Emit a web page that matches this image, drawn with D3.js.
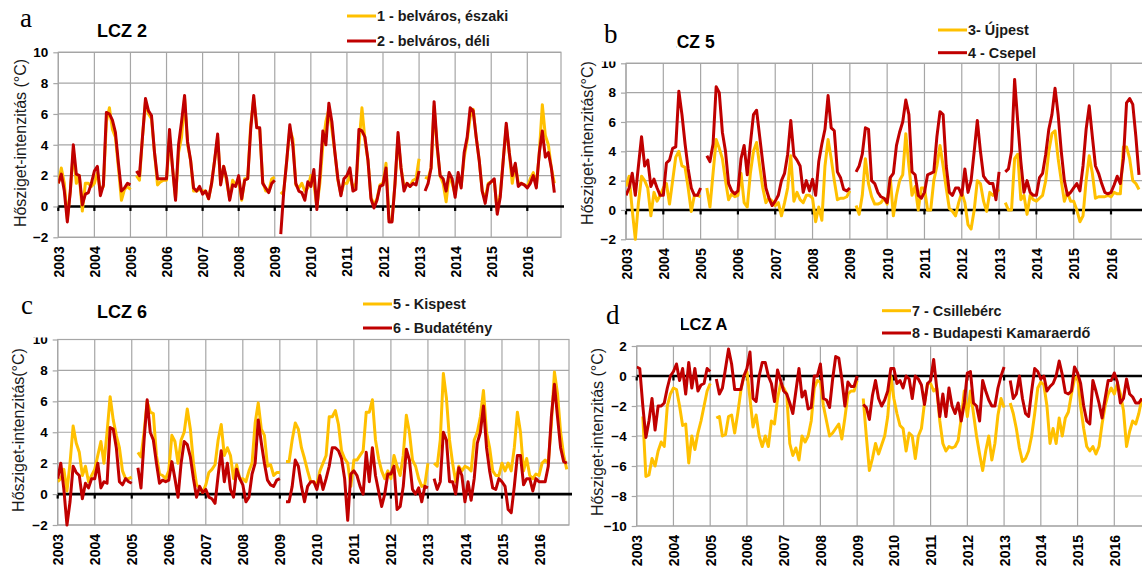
<!DOCTYPE html>
<html>
<head>
<meta charset="utf-8">
<script src="https://cdn.jsdelivr.net/npm/d3@7/dist/d3.min.js"></script>
<style>
  body { margin: 0; background: #fff; }
  svg { display: block; font-family: "Liberation Sans", Arial, sans-serif; }
</style>
</head>
<body>
<svg id="chart" width="1142" height="570"></svg>
<script>
(function () {
  'use strict';

  // ── Data: monthly UHI intensity, Jan 2003 – Oct 2016 (null = missing) ──
  var years = ['2003', '2004', '2005', '2006', '2007', '2008', '2009',
               '2010', '2011', '2012', '2013', '2014', '2015', '2016'];
  var yTicksTop = [-2, 0, 2, 4, 6, 8, 10];
  var yTicksLow = [-10, -8, -6, -4, -2, 0, 2];

  var lcz2North = [
    1.5, 2.5, 1.5, -0.8, 1.0, 3.6, 1.5, 2.0, -0.3, 1.5, 1.5, 1.3,
    1.5, 2.2, 1.0, 1.3, 5.5, 6.4, 5.0, 4.5, 2.5, 0.4, 1.1, 1.3,
    1.1, null, 2.0, 1.7, 4.5, 6.8, 6.0, 5.7, 3.5, 1.4, 1.6, 1.7,
    1.7, 4.5, 2.5, 0.5, 3.5, 4.5, 7.0, 4.0, 3.0, 1.0, 1.0, 1.1,
    1.0, 1.0, 0.5, 1.5, 3.0, 4.5, 1.5, 2.6, 1.6, 0.5, 1.7, 1.4,
    1.7, 0.4, 1.8, 1.8, 5.3, 7.0, 5.2, 5.0, 1.6, 1.0, 1.0, 1.8,
    1.9, null, 0.8, 1.0, 3.0, 5.0, 4.4, 1.4, 1.2, 1.5, 1.0, 1.2,
    2.0, 1.5, 0.0, 1.5, 4.0, 5.5, 6.3, 5.0, 3.5, 1.7, 0.8, 1.5,
    1.5, 2.0, 1.2, 1.5, 4.0, 6.4, 4.3, 3.0, 0.6, 0.1, 0.5, 1.4,
    1.5, 2.8, -0.8, -0.9, 1.5, 4.5, 2.5, 1.3, 1.5, 1.3, 1.7, 1.8,
    3.1, null, 1.9, 1.8, 2.5, 6.5, 3.8, 2.0, 1.5, 0.3, 2.0, 1.5,
    0.8, 2.0, 1.3, 3.2, 4.3, 5.8, 6.3, 4.5, 3.0, 1.0, 0.5, 1.5,
    1.6, 1.7, -0.3, 0.8, 3.0, 5.2, 3.5, 1.5, 2.7, 1.5, 1.5, 1.4,
    1.3, 1.8, 2.2, 1.3, 3.5, 6.6, 4.6, 4.0, 2.5, 1.5
  ];
  var lcz2South = [
    1.5, 2.1, 1.0, -1.0, 1.0, 4.0, 2.1, 2.0, 0.1, 0.8, 0.9, 1.5,
    2.3, 2.6, 0.7, 1.4, 6.1, 6.0, 5.6, 4.8, 2.8, 1.0, 1.2, 1.5,
    1.4, null, 2.3, 2.0, 4.5, 7.0, 6.2, 5.9, 3.5, 1.8, 1.8, 1.8,
    1.8, 5.0, 2.5, 0.4, 4.0, 5.5, 7.2, 4.2, 3.0, 1.2, 1.0, 1.3,
    0.8, 1.0, 0.5, 1.5, 3.0, 4.7, 1.4, 2.6, 1.8, 0.4, 1.4, 1.3,
    2.0, 0.5, 1.7, 1.8, 5.0, 7.2, 5.1, 5.1, 1.5, 1.2, 0.9, 1.5,
    1.7, null, -1.8, 1.0, 3.0, 5.3, 4.0, 1.5, 1.0, 0.9, 0.4, 1.6,
    1.3, 2.4, -0.2, 2.0, 4.9, 4.0, 6.7, 5.5, 3.5, 1.8, 0.7, 1.8,
    2.0, 2.5, 1.0, 1.1, 5.0, 4.9, 4.5, 3.0, 0.5, -0.1, 0.4, 1.3,
    1.4, 2.5, -1.0, -1.0, 1.5, 4.8, 2.5, 1.0, 1.5, 1.3, 1.5, 1.4,
    2.3, null, 1.0, 1.5, 2.5, 6.8, 4.0, 2.0, 1.8, 1.0, 2.2, 1.8,
    0.6, 2.2, 1.2, 3.5, 4.5, 6.4, 6.2, 4.5, 3.0, 1.0, 0.2, 1.4,
    1.6, 1.8, -0.5, 0.6, 3.0, 5.4, 3.5, 2.0, 2.8, 1.3, 1.5, 1.4,
    1.2, 1.5, 2.0, 1.2, 3.5, 4.9, 3.2, 3.5, 2.5, 0.9
  ];
  var lcz5Ujpest = [
    1.6, 2.3, 0.0, -2.0, 0.5, 2.3, 2.0, 1.5, -0.4, 1.2, 0.6, 1.0,
    1.5, 1.8, 0.4, 2.0, 3.6, 4.0, 3.0, 2.9, 1.5, -0.1, 1.0, 1.0,
    0.9, null, 1.5, 0.2, 2.5, 4.8, 4.2, 3.5, 2.0, 0.7, 1.1, 0.9,
    1.0, 2.5, 0.5, 0.2, 2.5, 4.0, 4.6, 3.0, 1.5, 0.5, 0.8, 0.6,
    0.3, 0.5, -0.4, 0.5, 1.5, 3.7, 0.6, 1.2, 0.7, 0.5, 1.0, 1.0,
    0.8, -0.8, 0.2, -0.7, 3.0, 4.8, 3.5, 2.0, 0.7, 0.8, 0.8, 0.9,
    1.3, null, 0.3, -0.3, 1.0, 3.5, 1.8, 0.9, 0.4, 0.4, 0.5, 0.8,
    0.4, 2.2, -0.4, 1.0, 2.0, 2.4, 5.2, 3.0, 1.0, 1.6, 0.0, 1.5,
    1.5, 0.0, 0.0, 2.0, 3.0, 4.4, 3.0, 1.5, 0.1, -0.1, -0.4, 0.5,
    1.2, 0.5, -1.0, -1.3, 0.0, 2.0, 1.8, 0.6, -0.1, 1.2, 1.0, 1.2,
    1.4, null, 0.5, 0.0, 0.0, 3.5, 3.8, 0.7, 1.0, -0.3, 1.0, 0.7,
    0.6, 0.8, 1.0, 2.0, 4.0, 5.2, 5.4, 3.5, 2.0, 0.6, 1.2, 0.6,
    0.6, 0.0, -0.8, -0.4, 2.0, 3.7, 2.5, 0.8, 0.9, 0.9, 0.9, 1.0,
    0.9, 1.2, 1.1, 1.1, 4.3, 4.3, 3.5, 2.0, 1.8, 1.4
  ];
  var lcz5Csepel = [
    1.0, 1.5, 2.5, 1.0, 3.0, 5.0, 3.0, 3.4, 1.6, 2.1, 1.5, 1.0,
    1.0, 3.2, 3.4, 4.2, 4.3, 8.1, 6.5, 4.5, 2.8, 1.5, 1.0, 1.0,
    1.5, null, 3.7, 3.3, 4.5, 8.4, 8.0, 5.3, 4.0, 1.8, 1.3, 1.1,
    1.3, 3.5, 4.4, 2.4, 4.5, 6.5, 6.8, 5.0, 3.2, 1.5, 0.8, 0.3,
    0.6, 1.0, 2.0, 2.5, 3.8, 6.1, 3.7, 3.4, 3.0, 1.2, 2.0, 1.3,
    2.1, 1.0, 3.3, 4.5, 5.5, 7.8, 5.6, 5.4, 2.6, 2.2, 1.4, 1.3,
    1.5, null, 2.6, 3.0, 3.8, 5.6, 5.5, 2.0, 1.8, 1.2, 0.9, 0.8,
    0.5, 2.2, 2.5, 4.4, 5.3, 6.0, 7.5, 6.5, 2.6, 2.4, 1.0, 0.8,
    1.2, 2.4, 2.5, 2.6, 5.0, 6.7, 6.5, 3.0, 1.2, 1.0, 1.5, 1.5,
    1.0, 2.8, 1.2, 2.0, 4.0, 6.1, 4.0, 2.3, 2.0, 1.8, 1.8, 0.7,
    2.6, null, 2.6, 2.8, 4.0, 8.9, 6.0, 3.3, 1.2, 2.0, 1.2, 1.0,
    1.0, 2.2, 2.5, 3.8, 5.5, 6.5, 8.3, 6.5, 4.0, 2.0, 1.0, 1.2,
    1.5, 1.8, 1.3, 3.0, 5.5, 7.1, 5.0, 3.0, 2.5, 1.8, 1.2, 1.1,
    1.2, 1.7, 2.3, 1.8, 3.5, 7.3, 7.6, 7.2, 5.0, 2.4
  ];
  var lcz6Kispest = [
    0.8, 1.0, 1.6, 0.2, 2.0, 4.4, 3.3, 2.7, 1.2, 1.8, 0.8, 1.2,
    1.6, 2.5, 3.4, 2.0, 4.0, 6.3, 4.8, 3.8, 3.0, 1.5, 1.0, 1.0,
    1.1, null, 2.7, 2.4, 4.0, 6.0, 5.3, 5.2, 2.5, 1.3, 1.2, 1.0,
    1.5, 3.8, 3.4, 2.0, 3.5, 4.0, 5.5, 4.2, 2.0, 0.6, 0.4, 0.1,
    0.6, 1.4, 1.6, 1.9, 3.5, 4.5, 2.5, 3.0, 2.5, 1.0, 1.9, 1.0,
    1.0, 0.8, 1.5, 2.0, 4.6, 5.9, 4.2, 3.8, 1.8, 1.9, 1.2, 1.4,
    1.4, null, 2.1, 2.1, 3.5, 4.6, 4.2, 3.0, 2.3, 1.5, 0.8, 0.8,
    0.6, 1.5, 2.0, 2.5, 5.0, 5.0, 5.4, 4.5, 2.8, 2.3, 2.0, 0.5,
    2.2, 2.2, 2.5, 2.8, 5.3, 5.3, 6.1, 3.5, 2.3, 1.5, 1.0, 1.5,
    1.0, 2.5, 1.8, 1.2, 2.5, 5.1, 4.0, 2.2, 1.8, 1.0, 0.5, 0.6,
    2.0, null, 2.0, 1.8, 3.5, 7.8, 6.2, 3.5, 2.0, 0.8, 1.8, 1.5,
    1.8, 1.7, 1.5, 3.5, 4.0, 5.0, 6.7, 4.0, 3.0, 1.5, 1.2, 1.2,
    2.0, 1.5, 2.0, 1.5, 3.0, 5.3, 4.0, 1.5, 2.3, 1.2, 1.0, 1.3,
    1.2, 2.0, 2.2, 2.0, 4.5, 7.9, 6.5, 4.0, 2.5, 1.6
  ];
  var lcz6Budateteny = [
    1.0, 2.0, 0.3, -2.0, -0.5, 1.8, 1.4, 1.2, -0.3, 0.7, 0.4, 1.0,
    1.0, 2.0, 0.4, 0.8, 0.7, 4.3, 4.2, 3.0, 0.8, 0.6, 1.0, 0.8,
    0.7, null, 1.7, 0.4, 3.5, 6.1, 4.0, 3.5, 2.0, 0.7, 0.9, 0.8,
    0.9, 2.1, 1.0, -0.2, 2.0, 3.4, 3.2, 2.4, 1.0, -0.2, 0.5, 0.1,
    0.3, -0.2, -0.3, -0.6, 1.2, 2.8, 0.8, 2.0, 0.3, -0.2, 1.6, 1.0,
    0.6, -0.5, -0.2, 1.3, 2.0, 4.8, 3.3, 2.0, 0.9, 0.6, 0.5, 0.9,
    1.0, null, -0.5, -0.5, 0.5, 2.2, 1.8, 0.5, -0.5, 0.5, 0.8, 0.8,
    0.3, 1.2, 0.3, 1.0, 1.8, 3.0, 3.0, 2.8, 2.3, 1.0, -1.7, 1.3,
    1.5, 1.2, 0.5, 0.0, 2.7, 0.8, 3.0, 1.2, 0.2, -0.8, 0.0, 1.3,
    1.3, 1.8, -1.0, -0.8, 0.5, 2.9, 2.2, 0.3, 0.0, 0.4, -0.5, 0.5,
    0.4, null, 1.0, 0.3, 0.8, 4.0, 3.5, 0.8, 0.8, 0.0, 1.7, 1.2,
    -0.5, 0.8, -0.4, 1.0, 3.3, 4.0, 5.7, 3.0, 1.5, 0.4, 0.3, 1.0,
    0.8, 0.5, -1.0, -1.2, 0.5, 2.5, 2.5, 0.6, 1.0, 1.0, 0.2, 1.0,
    0.8, 0.8, 0.8, 1.8, 5.0, 7.1, 5.0, 3.0, 2.1, 2.0
  ];
  var lczACsilleberc = [
    null, null, -2.7, -6.7, -6.6, -5.5, -6.0, -5.0, -4.4, -4.7, -2.0, -1.2,
    -0.8, -0.9, -2.0, -3.3, -3.2, -5.8, -4.0, -4.9, -3.8, -3.0, -2.0, -1.0,
    -0.5, null, -2.8, -2.7, -4.0, -3.9, -2.7, -2.6, -3.8, -2.5, -1.0, 0.0,
    0.3, -1.5, -3.4, -2.6, -4.0, -4.7, -4.0, -4.7, -3.0, -3.2, -1.5, -0.5,
    -0.8, -1.2, -4.5, -5.3, -4.8, -5.6, -4.0, -4.4, -4.0, -3.0, -0.8, -0.3,
    -0.4, -2.0, -3.0, -4.0, -3.8, -3.5, -3.2, -4.2, -2.8, -1.2, -1.0, -1.0,
    -0.3, null, -1.5, -4.0, -6.3, -5.5, -4.5, -5.2, -4.6, -4.0, -2.7, 0.0,
    -1.5, -2.5, -3.3, -3.5, -5.0, -3.8, -4.0, -5.5, -4.0, -3.5, -1.8, -0.5,
    -0.5, -1.0, -0.8, -3.0, -4.5, -5.0, -4.7, -4.8, -4.7, -4.3, -2.8, -1.0,
    -2.7, -1.0, -2.5, -4.0, -5.2, -6.3, -5.0, -4.0, -5.6, -4.5, -2.6, -1.5,
    -2.1, null, -1.8, -2.5, -3.5, -4.8, -5.7, -5.5, -5.0, -4.0, -2.5, -0.8,
    -0.4, -0.6, -2.0, -4.5, -3.5, -4.5, -2.8, -4.0, -2.8, -2.4, -1.2, -0.2,
    0.0, -2.0, -3.5, -4.7, -5.0, -4.7, -5.2, -4.7, -3.2, -2.0, -1.2, -0.8,
    -1.2, -0.5, -1.2, -2.3, -4.7, -3.7, -3.0, -3.2, -2.5, -1.5
  ];
  var lczAKamaraerdo = [
    0.6, 0.5, -2.0, -4.1, -3.0, -1.5, -3.6, -2.0, -2.0, -1.8, -0.8, 0.0,
    0.3, 0.8, -0.3, 0.5, -1.2, 0.9, -0.8, 0.5, -1.0, -0.6, -0.5, 0.5,
    0.3, null, -0.2, -1.2, -0.8, 0.5, 1.8, 0.8, -0.9, -0.9, -0.9, 0.0,
    0.5, 1.6, -1.5, -1.7, 0.0, 0.9, 0.9, 0.0, -0.5, -1.7, 0.4, -0.3,
    -1.0, -1.2, -1.8, -2.5, -1.0, 0.5, -1.4, -1.0, -2.2, -2.1, 0.0, 0.0,
    0.8, -1.5, -1.6, -2.1, -0.2, 1.3, 1.2, -0.2, -2.0, -0.4, -0.7, -0.7,
    0.0, null, -1.9, -2.1, -2.9, -1.3, -0.3, -1.5, -2.0, -1.6, -1.0, 0.5,
    0.5, -0.5, -0.3, -0.8, 0.0, -0.2, -1.5, 0.0, -0.2, -0.6, -1.9, -0.5,
    -0.3, 1.1, -0.8, -2.7, -1.2, -2.7, -0.8, -2.0, -2.5, -1.8, -3.0, -1.8,
    0.2, 0.3, -1.8, -2.0, -3.0, -0.3, -1.0, -1.6, -2.0, -2.0, -0.8, 0.0,
    0.6, null, -0.3, -1.5, -1.2, 0.0, -1.5, -2.5, -2.7, -1.0, 0.5, 0.3,
    -0.2, 0.0, -1.0, -0.7, -0.5, 0.0, 1.0, 0.1, -1.1, -1.2, -1.0, 0.6,
    0.2, -0.5, -2.0, -3.0, -3.2, -0.3, -1.0, -1.8, -2.8, -1.5, -0.3, -0.3,
    0.2, -0.4, -1.8, -1.5, -0.2, -1.2, -1.4, -1.8, -1.8, -1.5
  ];

  var YELLOW = '#FFC000';
  var RED = '#C00000';

  // ── Panel layout (pixel frame of each sub-chart) ──
  var panels = [
    { letter: 'a', letterX: 20, letterY: 27, title: 'LCZ 2', titleX: 97, titleY: 37, titleSize: 18,
      x0: 58.3, x16: 527.3, right: 561, top: 52.3, bottom: 237.3, yTicks: yTicksTop,
      yLabel: 'Hősziget-intenzitás (°C)', yLabelX: 20, yLabelY: 143,
      legX: 347, legY: [16, 41],
      series: [{ name: '1 - belváros, északi', values: lcz2North, color: YELLOW },
               { name: '2 - belváros, déli', values: lcz2South, color: RED }] },
    { letter: 'b', letterX: 604, letterY: 43, title: 'LCZ 5', titleX: 666, titleY: 48, titleSize: 17.5,
      mask: [596, 24, 80.5, 37.5],
      x0: 626, x16: 1111, right: 1146, top: 63.3, bottom: 239.3, yTicks: yTicksTop,
      yLabel: 'Hősziget-intenzitás(°C)', yLabelX: 587, yLabelY: 143,
      legX: 938, legY: [30, 52.7],
      series: [{ name: '3- Újpest', values: lcz5Ujpest, color: YELLOW },
               { name: '4 - Csepel', values: lcz5Csepel, color: RED }] },
    { letter: 'c', letterX: 21, letterY: 314, title: 'LCZ 6', titleX: 97, titleY: 318, titleSize: 18,
      mask: [18, 322, 36, 15.5],
      x0: 57.7, x16: 539, right: 569, top: 339.5, bottom: 525, yTicks: yTicksTop,
      yLabel: 'Hősziget-intenzitás(°C)', yLabelX: 18, yLabelY: 430,
      legX: 363, legY: [304, 328],
      series: [{ name: '5 - Kispest', values: lcz6Kispest, color: YELLOW },
               { name: '6 - Budatétény', values: lcz6Budateteny, color: RED }] },
    { letter: 'd', letterX: 606, letterY: 324, title: 'LCZ A', titleX: 679.5, titleY: 330, titleSize: 16.5,
      mask: [600, 312, 81, 24],
      x0: 636.7, x16: 1114.3, right: 1150, top: 346, bottom: 526, yTicks: yTicksLow,
      yLabel: 'Hősziget-intenzitás (°C)', yLabelX: 597, yLabelY: 432,
      legX: 882, legY: [310.7, 333],
      series: [{ name: '7 - Csillebérc', values: lczACsilleberc, color: YELLOW },
               { name: '8 - Budapesti Kamaraerdő', values: lczAKamaraerdo, color: RED }] }
  ];

  var svg = d3.select('#chart');
  var yearNums = years.map(Number);

  panels.forEach(function (p, pi) {
    var yExt = d3.extent(p.yTicks);
    var x = d3.scaleLinear().domain([yearNums[0], yearNums[yearNums.length - 1]]).range([p.x0, p.x16]);
    var y = d3.scaleLinear().domain(yExt).range([p.bottom, p.top]);
    var g = svg.append('g');

    // title (drawn first so the panel letter's white box can overlap it)
    g.append('text')
      .attr('x', p.titleX).attr('y', p.titleY)
      .attr('font-size', p.titleSize + 'px').attr('font-weight', 'bold').attr('fill', '#000')
      .text(p.title);

    // grid
    g.append('g').selectAll('line')
      .data(p.yTicks)
      .enter().append('line')
      .attr('x1', p.x0).attr('x2', p.right)
      .attr('y1', function (d) { return y(d); }).attr('y2', function (d) { return y(d); })
      .attr('stroke', '#a6a6a6').attr('stroke-width', 1.2);

    g.append('g').selectAll('line')
      .data(yearNums)
      .enter().append('line')
      .attr('x1', function (d) { return x(d); }).attr('x2', function (d) { return x(d); })
      .attr('y1', p.top).attr('y2', p.bottom)
      .attr('stroke', '#a6a6a6').attr('stroke-width', 1.2);

    g.append('rect')
      .attr('x', p.x0).attr('y', p.top)
      .attr('width', p.right - p.x0).attr('height', p.bottom - p.top)
      .attr('fill', 'none').attr('stroke', '#a6a6a6').attr('stroke-width', 1.2);

    // zero axis with year ticks
    g.append('line')
      .attr('x1', p.x0).attr('x2', p.right + 3)
      .attr('y1', y(0)).attr('y2', y(0))
      .attr('stroke', '#000').attr('stroke-width', 2.6);
    g.append('g').selectAll('line')
      .data(yearNums)
      .enter().append('line')
      .attr('x1', function (d) { return x(d); }).attr('x2', function (d) { return x(d); })
      .attr('y1', y(0)).attr('y2', y(0) + 4.5)
      .attr('stroke', '#000').attr('stroke-width', 2.2);

    // y axis labels and small grey ticks
    var yAxis = g.append('g')
      .attr('transform', 'translate(' + p.x0 + ',0)')
      .call(d3.axisLeft(y).tickValues(p.yTicks).tickSize(5).tickPadding(5));
    yAxis.select('.domain').remove();
    yAxis.selectAll('.tick line').attr('stroke', '#a6a6a6').attr('stroke-width', 1.2);
    yAxis.selectAll('text')
      .attr('font-family', '"Liberation Sans", Arial, sans-serif')
      .attr('font-size', '13.5px').attr('font-weight', 'bold').attr('fill', '#000');

    // x axis year labels (rotated)
    var xAxis = g.append('g')
      .attr('transform', 'translate(0,' + p.bottom + ')')
      .call(d3.axisBottom(x).tickValues(yearNums).tickSize(0)
        .tickFormat(function (d, i) { return years[i]; }));
    xAxis.select('.domain').remove();
    xAxis.selectAll('text')
      .attr('font-family', '"Liberation Sans", Arial, sans-serif')
      .attr('font-size', '14px').attr('font-weight', 'bold').attr('fill', '#000')
      .attr('transform', 'rotate(-90)')
      .attr('text-anchor', 'end')
      .attr('x', -9).attr('y', 0).attr('dy', '0.36em');

    // y axis title
    g.append('text')
      .attr('transform', 'translate(' + p.yLabelX + ',' + p.yLabelY + ') rotate(-90)')
      .attr('text-anchor', 'middle').attr('dy', '0.35em')
      .attr('font-size', '16px').attr('fill', '#1a1a1a')
      .text(p.yLabel);

    // series
    var clipId = 'clip' + pi;
    g.append('clipPath').attr('id', clipId)
      .append('rect')
      .attr('x', p.x0).attr('y', p.top - 4)
      .attr('width', p.right - p.x0).attr('height', p.bottom - p.top + 8);

    var line = d3.line()
      .defined(function (d) { return d != null; })
      .x(function (d, i) { return x(yearNums[0] + i / 12); })
      .y(function (d) { return y(d); });

    g.append('g').attr('clip-path', 'url(#' + clipId + ')')
      .selectAll('path')
      .data(p.series)
      .enter().append('path')
      .attr('d', function (s) { return line(s.values); })
      .attr('fill', 'none')
      .attr('stroke', function (s) { return s.color; })
      .attr('stroke-width', 3)
      .attr('stroke-linejoin', 'round');

    // legend
    var leg = g.append('g').selectAll('g')
      .data(p.series)
      .enter().append('g')
      .attr('transform', function (s, i) { return 'translate(' + p.legX + ',' + p.legY[i] + ')'; });
    leg.append('line')
      .attr('x1', 0).attr('x2', 29)
      .attr('stroke', function (s) { return s.color; })
      .attr('stroke-width', 3);
    leg.append('text')
      .attr('x', 30).attr('dy', '0.35em')
      .attr('font-size', '14.4px').attr('font-weight', 'bold').attr('fill', '#1a1a1a')
      .text(function (s) { return s.name; });

    // cropped-picture masks and panel letter
    if (p.mask) {
      g.append('rect')
        .attr('x', p.mask[0]).attr('y', p.mask[1])
        .attr('width', p.mask[2]).attr('height', p.mask[3])
        .attr('fill', '#fff');
    }
    g.append('text')
      .attr('x', p.letterX).attr('y', p.letterY)
      .attr('font-family', '"Liberation Serif", "Times New Roman", serif')
      .attr('font-size', '27px').attr('fill', '#000')
      .text(p.letter);
  });
})();
</script>
</body>
</html>
